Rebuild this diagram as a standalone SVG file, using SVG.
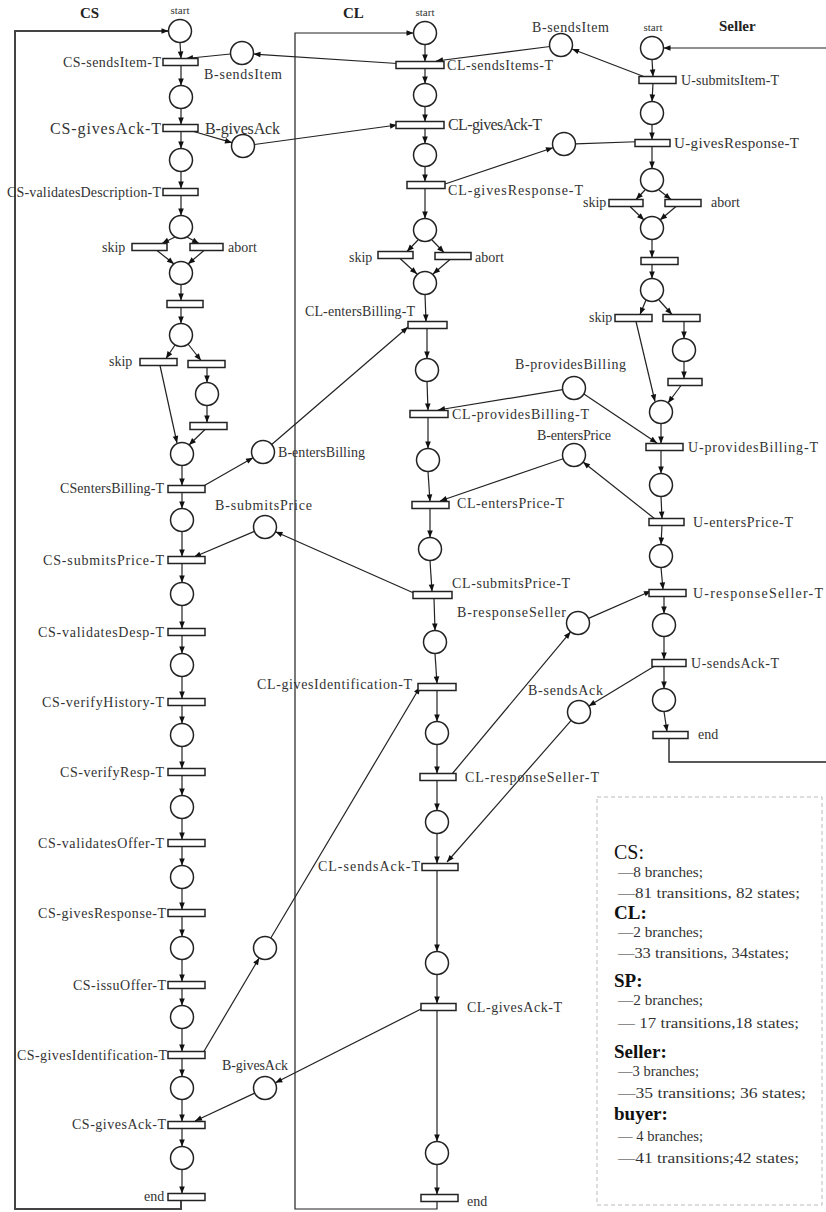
<svg xmlns="http://www.w3.org/2000/svg" width="826" height="1212" viewBox="0 0 826 1212">
<style>
.p{fill:#fff;stroke:#222;stroke-width:1.5}
.t{fill:#fff;stroke:#222;stroke-width:1.5}
.e{fill:none;stroke:#222;stroke-width:1.2;marker-end:url(#a)}
.l{fill:none;stroke:#222;stroke-width:1.4}
.lb{font-family:"Liberation Serif",serif;font-size:14px;fill:#333}
.big{font-size:16px}
.sm{font-family:"Liberation Serif",serif;font-size:11px;fill:#333;text-anchor:middle}
.hd{font-family:"Liberation Serif",serif;font-size:15px;font-weight:bold;fill:#222}
.lg{font-family:"Liberation Serif",serif;font-size:14px;fill:#333}
.lh{font-family:"Liberation Serif",serif;font-size:19px;font-weight:bold;fill:#111}
</style>
<defs>
<marker id="a" viewBox="0 0 10 10" refX="10" refY="5" markerWidth="8" markerHeight="7" markerUnits="userSpaceOnUse" orient="auto"><path d="M0,1 L10,5 L0,9 z" fill="#111"/></marker>
</defs>
<rect width="826" height="1212" fill="#fff"/>

<g id="connectors">
<!-- loops -->
<path class="e" d="M181,1200.5 V1209 H15 V31 H168.5" style="stroke:#444;stroke-width:2"/>
<path class="e" d="M437,1201.5 V1209 H295 V33 H413.5"/>
<path class="e" d="M826,48 H663.5"/>
<path class="l" d="M669,738.5 V762 H826"/>
<!-- CS column -->
<line class="e" x1="180" y1="42.5" x2="181" y2="58.5"/>
<line class="e" x1="181" y1="65.5" x2="181" y2="85.5"/>
<line class="e" x1="181" y1="108.5" x2="181" y2="124.5"/>
<line class="e" x1="181" y1="131.5" x2="181" y2="148.5"/>
<line class="e" x1="181" y1="171.5" x2="181" y2="188.5"/>
<line class="e" x1="181" y1="195.5" x2="181" y2="215.5"/>
<line class="e" x1="175" y1="237" x2="162" y2="243.5"/>
<line class="e" x1="187" y1="237" x2="199" y2="243.5"/>
<line class="e" x1="157" y1="250.5" x2="174" y2="264"/>
<line class="e" x1="204" y1="250.5" x2="188" y2="264"/>
<line class="e" x1="181" y1="284.5" x2="181" y2="300.5"/>
<line class="e" x1="181" y1="307.5" x2="181" y2="323.5"/>
<line class="e" x1="175" y1="345" x2="166" y2="358.5"/>
<line class="e" x1="188" y1="344" x2="201" y2="360.5"/>
<line class="e" x1="160" y1="365.5" x2="177" y2="443"/>
<line class="e" x1="207" y1="367.5" x2="207" y2="382.5"/>
<line class="e" x1="207" y1="405.5" x2="207" y2="422.5"/>
<line class="e" x1="205" y1="429.5" x2="189" y2="445"/>
<line class="e" x1="182" y1="465.5" x2="182" y2="485.5"/>
<line class="e" x1="182" y1="492.5" x2="182" y2="508.5"/>
<line class="e" x1="182" y1="531.5" x2="182" y2="556.5"/>
<line class="e" x1="182" y1="563.5" x2="182" y2="582.5"/>
<line class="e" x1="182" y1="605.5" x2="182" y2="628.5"/>
<line class="e" x1="182" y1="635.5" x2="182" y2="653.5"/>
<line class="e" x1="182" y1="676.5" x2="182" y2="698.5"/>
<line class="e" x1="182" y1="705.5" x2="182" y2="723.5"/>
<line class="e" x1="182" y1="746.5" x2="182" y2="768.5"/>
<line class="e" x1="182" y1="775.5" x2="182" y2="795.5"/>
<line class="e" x1="182" y1="818.5" x2="182" y2="839.5"/>
<line class="e" x1="182" y1="846.5" x2="182" y2="865.5"/>
<line class="e" x1="182" y1="888.5" x2="182" y2="909.5"/>
<line class="e" x1="182" y1="916.5" x2="182" y2="936.5"/>
<line class="e" x1="182" y1="959.5" x2="182" y2="981.5"/>
<line class="e" x1="182" y1="988.5" x2="182" y2="1005.5"/>
<line class="e" x1="182" y1="1028.5" x2="182" y2="1051.5"/>
<line class="e" x1="182" y1="1058.5" x2="182" y2="1076.5"/>
<line class="e" x1="182" y1="1099.5" x2="182" y2="1121.5"/>
<line class="e" x1="182" y1="1128.5" x2="182" y2="1146.5"/>
<line class="e" x1="182" y1="1169.5" x2="182" y2="1193.5"/>
<!-- CL column -->
<line class="e" x1="425" y1="44.5" x2="425" y2="61.5"/>
<line class="e" x1="425" y1="68.5" x2="425" y2="83.5"/>
<line class="e" x1="425" y1="106.5" x2="425" y2="121.5"/>
<line class="e" x1="425" y1="128.5" x2="425" y2="143.5"/>
<line class="e" x1="425" y1="166.5" x2="425" y2="181.5"/>
<line class="e" x1="425" y1="188.5" x2="425" y2="218.5"/>
<line class="e" x1="418" y1="240" x2="407" y2="251.5"/>
<line class="e" x1="432" y1="240" x2="444" y2="252.5"/>
<line class="e" x1="400" y1="258.5" x2="417" y2="274"/>
<line class="e" x1="450" y1="259.5" x2="433" y2="274"/>
<line class="e" x1="425" y1="294.5" x2="426" y2="321.5"/>
<line class="e" x1="427" y1="328.5" x2="427" y2="358.5"/>
<line class="e" x1="427" y1="381.5" x2="428" y2="410.5"/>
<line class="e" x1="428" y1="417.5" x2="428" y2="448.5"/>
<line class="e" x1="428" y1="471.5" x2="430" y2="501.5"/>
<line class="e" x1="430" y1="508.5" x2="430" y2="537.5"/>
<line class="e" x1="430" y1="560.5" x2="432" y2="591.5"/>
<line class="e" x1="434" y1="598.5" x2="435" y2="630.5"/>
<line class="e" x1="435" y1="653.5" x2="437" y2="683.5"/>
<line class="e" x1="437" y1="690.5" x2="437" y2="721.5"/>
<line class="e" x1="437" y1="744.5" x2="437" y2="773.5"/>
<line class="e" x1="437" y1="780.5" x2="437" y2="810.5"/>
<line class="e" x1="437" y1="833.5" x2="437" y2="863.5"/>
<line class="e" x1="437" y1="870.5" x2="437" y2="951.5"/>
<line class="e" x1="437" y1="974.5" x2="437" y2="1003.5"/>
<line class="e" x1="437" y1="1010.5" x2="437" y2="1141.5"/>
<line class="e" x1="437" y1="1164.5" x2="437" y2="1194.5"/>
<!-- Seller column -->
<line class="e" x1="652" y1="59.5" x2="653" y2="76.5"/>
<line class="e" x1="653" y1="83.5" x2="652" y2="101.5"/>
<line class="e" x1="652" y1="124.5" x2="652" y2="139.5"/>
<line class="e" x1="652" y1="146.5" x2="652" y2="168.5"/>
<line class="e" x1="645" y1="190" x2="636" y2="199.5"/>
<line class="e" x1="659" y1="190" x2="671" y2="199.5"/>
<line class="e" x1="630" y1="206.5" x2="644" y2="220"/>
<line class="e" x1="676" y1="206.5" x2="660" y2="220"/>
<line class="e" x1="652" y1="239.5" x2="652" y2="257.5"/>
<line class="e" x1="652" y1="264.5" x2="652" y2="278.5"/>
<line class="e" x1="646" y1="300" x2="640" y2="314.5"/>
<line class="e" x1="659" y1="300" x2="672" y2="314.5"/>
<line class="e" x1="636" y1="321.5" x2="655" y2="401.5"/>
<line class="e" x1="684" y1="321.5" x2="684" y2="338.5"/>
<line class="e" x1="684" y1="361.5" x2="684" y2="378.5"/>
<line class="e" x1="681" y1="385.5" x2="668" y2="403"/>
<line class="e" x1="661" y1="423.5" x2="661" y2="443.5"/>
<line class="e" x1="661" y1="450.5" x2="661" y2="473.5"/>
<line class="e" x1="661" y1="496.5" x2="662" y2="518.5"/>
<line class="e" x1="662" y1="525.5" x2="661" y2="544.5"/>
<line class="e" x1="661" y1="567.5" x2="663" y2="589.5"/>
<line class="e" x1="664" y1="596.5" x2="664" y2="613.5"/>
<line class="e" x1="664" y1="636.5" x2="664" y2="659.5"/>
<line class="e" x1="664" y1="666.5" x2="664" y2="688.5"/>
<line class="e" x1="664" y1="711.5" x2="667" y2="731.5"/>
<!-- message flows -->
<line class="e" x1="645" y1="77" x2="572" y2="49"/>
<line class="e" x1="550" y1="46.5" x2="436" y2="61"/>
<line class="e" x1="405" y1="64" x2="253.5" y2="54"/>
<line class="e" x1="230.5" y1="54" x2="186" y2="58.5"/>
<line class="e" x1="192" y1="131" x2="232" y2="142.7"/>
<line class="e" x1="254.4" y1="144.5" x2="397" y2="125"/>
<line class="e" x1="445" y1="184" x2="553" y2="147.7"/>
<line class="e" x1="575.5" y1="143.8" x2="643" y2="141.5"/>
<line class="e" x1="200" y1="488" x2="253" y2="457.7"/>
<line class="e" x1="271.7" y1="444.5" x2="408" y2="327"/>
<line class="e" x1="416" y1="594" x2="275.5" y2="531.7"/>
<line class="e" x1="254.4" y1="531.4" x2="194" y2="557"/>
<line class="e" x1="562.6" y1="389.6" x2="438" y2="410"/>
<line class="e" x1="583.9" y1="393.9" x2="657" y2="443"/>
<line class="e" x1="655" y1="519" x2="583" y2="462"/>
<line class="e" x1="563.1" y1="458.7" x2="440" y2="501"/>
<line class="e" x1="452" y1="774" x2="570.6" y2="631.8"/>
<line class="e" x1="588.5" y1="618.4" x2="651" y2="591"/>
<line class="e" x1="658" y1="664" x2="588.8" y2="706"/>
<line class="e" x1="571.2" y1="720.4" x2="447" y2="862"/>
<line class="e" x1="203" y1="1053" x2="259.2" y2="957.9"/>
<line class="e" x1="270.8" y1="938" x2="420" y2="687"/>
<line class="e" x1="425" y1="1007" x2="275.3" y2="1082.8"/>
<line class="e" x1="254.7" y1="1093.1" x2="195" y2="1121"/>
</g>

<!-- headers -->
<text class="hd" x="80" y="18">CS</text>
<text class="hd" x="343" y="18">CL</text>
<text class="hd" x="719" y="31">Seller</text>

<!-- CS nodes -->
<g id="cs-start"><circle class="p" cx="180" cy="31" r="11.5"/><text class="sm" x="180" y="14">start</text></g>
<g id="cs-sendsItem"><rect class="t" x="163" y="58.5" width="35" height="7"/><text class="lb" x="63" y="66.5" textLength="98">CS-sendsItem-T</text></g>
<g id="cs-p1"><circle class="p" cx="181" cy="97" r="11.5"/></g>
<g id="cs-givesAck"><rect class="t" x="163" y="124.5" width="35" height="7"/><text class="lb big" x="50" y="133.5" textLength="111">CS-givesAck-T</text></g>
<g id="cs-p2"><circle class="p" cx="181" cy="160" r="11.5"/></g>
<g id="cs-validatesDescription"><rect class="t" x="163" y="188.5" width="35" height="7"/><text class="lb" x="7" y="196.5" textLength="154">CS-validatesDescription-T</text></g>
<g id="cs-p3"><circle class="p" cx="181" cy="227" r="11.5"/></g>
<g id="cs-skip1"><rect class="t" x="132" y="243.5" width="35" height="7"/><text class="lb" x="102" y="252">skip</text></g>
<g id="cs-abort1"><rect class="t" x="190" y="243.5" width="33" height="7"/><text class="lb" x="228" y="252">abort</text></g>
<g id="cs-p4"><circle class="p" cx="181" cy="273" r="11.5"/></g>
<g id="cs-t1"><rect class="t" x="167" y="300.5" width="36" height="7"/></g>
<g id="cs-p5"><circle class="p" cx="181" cy="335" r="11.5"/></g>
<g id="cs-skip2"><rect class="t" x="140" y="358.5" width="37" height="7"/><text class="lb" x="109" y="366">skip</text></g>
<g id="cs-t2"><rect class="t" x="188" y="360.5" width="37" height="7"/></g>
<g id="cs-p6"><circle class="p" cx="207" cy="394" r="11.5"/></g>
<g id="cs-t3"><rect class="t" x="190" y="422.5" width="37" height="7"/></g>
<g id="cs-p7"><circle class="p" cx="182" cy="454" r="11.5"/></g>
<g id="cs-entersBilling"><rect class="t" x="168" y="485.5" width="37" height="7"/><text class="lb" x="60" y="493" textLength="104">CSentersBilling-T</text></g>
<g id="cs-p8"><circle class="p" cx="182" cy="520" r="11.5"/></g>
<g id="cs-submitsPrice"><rect class="t" x="168" y="556.5" width="37" height="7"/><text class="lb" x="43" y="565" textLength="121">CS-submitsPrice-T</text></g>
<g id="cs-p9"><circle class="p" cx="182" cy="594" r="11.5"/></g>
<g id="cs-validatesDesp"><rect class="t" x="168" y="628.5" width="37" height="7"/><text class="lb" x="38" y="637" textLength="126">CS-validatesDesp-T</text></g>
<g id="cs-p10"><circle class="p" cx="182" cy="665" r="11.5"/></g>
<g id="cs-verifyHistory"><rect class="t" x="168" y="698.5" width="37" height="7"/><text class="lb" x="42" y="707" textLength="122">CS-verifyHistory-T</text></g>
<g id="cs-p11"><circle class="p" cx="182" cy="735" r="11.5"/></g>
<g id="cs-verifyResp"><rect class="t" x="168" y="768.5" width="37" height="7"/><text class="lb" x="60" y="777" textLength="104">CS-verifyResp-T</text></g>
<g id="cs-p12"><circle class="p" cx="182" cy="807" r="11.5"/></g>
<g id="cs-validatesOffer"><rect class="t" x="168" y="839.5" width="37" height="7"/><text class="lb" x="38" y="848" textLength="126">CS-validatesOffer-T</text></g>
<g id="cs-p13"><circle class="p" cx="182" cy="877" r="11.5"/></g>
<g id="cs-givesResponse"><rect class="t" x="168" y="909.5" width="37" height="7"/><text class="lb" x="38" y="918" textLength="128">CS-givesResponse-T</text></g>
<g id="cs-p14"><circle class="p" cx="182" cy="948" r="11.5"/></g>
<g id="cs-issuOffer"><rect class="t" x="168" y="981.5" width="37" height="7"/><text class="lb" x="73" y="990" textLength="93">CS-issuOffer-T</text></g>
<g id="cs-p15"><circle class="p" cx="182" cy="1017" r="11.5"/></g>
<g id="cs-givesIdentification"><rect class="t" x="168" y="1051.5" width="37" height="7"/><text class="lb" x="17" y="1060" textLength="150">CS-givesIdentification-T</text></g>
<g id="cs-p16"><circle class="p" cx="182" cy="1088" r="11.5"/></g>
<g id="cs-givesAck2"><rect class="t" x="168" y="1121.5" width="37" height="7"/><text class="lb" x="72" y="1129" textLength="94">CS-givesAck-T</text></g>
<g id="cs-p17"><circle class="p" cx="182" cy="1158" r="11.5"/></g>
<g id="cs-end"><rect class="t" x="168" y="1193.5" width="37" height="7"/><text class="lb" x="144" y="1201">end</text></g>

<!-- message places -->
<g id="b-sendsItem-1"><circle class="p" cx="242" cy="53" r="11.5"/><text class="lb" x="204" y="79" textLength="78">B-sendsItem</text></g>
<g id="b-givesAck-1"><circle class="p" cx="243" cy="146" r="11.5"/><text class="lb big" x="205" y="134" textLength="75">B-givesAck</text></g>
<g id="b-sendsItem-2"><circle class="p" cx="561" cy="45" r="11.5"/><text class="lb" x="532" y="32" textLength="77">B-sendsItem</text></g>
<g id="p-givesResponse"><circle class="p" cx="564" cy="144" r="11.5"/></g>
<g id="b-entersBilling"><circle class="p" cx="263" cy="452" r="11.5"/><text class="lb" x="278" y="457" textLength="87">B-entersBilling</text></g>
<g id="b-submitsPrice"><circle class="p" cx="265" cy="527" r="11.5"/><text class="lb" x="215" y="510" textLength="97">B-submitsPrice</text></g>
<g id="b-providesBilling"><circle class="p" cx="574" cy="388" r="11.5"/><text class="lb" x="515" y="369" textLength="111">B-providesBilling</text></g>
<g id="b-entersPrice"><circle class="p" cx="574" cy="455" r="11.5"/><text class="lb" x="537" y="440" textLength="74">B-entersPrice</text></g>
<g id="b-responseSeller"><circle class="p" cx="578" cy="623" r="11.5"/><text class="lb" x="457" y="617" textLength="109">B-responseSeller</text></g>
<g id="b-sendsAck"><circle class="p" cx="579" cy="712" r="11.5"/><text class="lb" x="528" y="695" textLength="75">B-sendsAck</text></g>
<g id="p-givesIdentification"><circle class="p" cx="265" cy="948" r="11.5"/></g>
<g id="b-givesAck-2"><circle class="p" cx="265" cy="1088" r="11.5"/><text class="lb" x="222" y="1070" textLength="66">B-givesAck</text></g>

<!-- CL nodes -->
<g id="cl-start"><circle class="p" cx="425" cy="33" r="11.5"/><text class="sm" x="425" y="16">start</text></g>
<g id="cl-sendsItems"><rect class="t" x="396" y="61.5" width="48" height="7"/><text class="lb" x="447" y="69.5" textLength="106">CL-sendsItems-T</text></g>
<g id="cl-p1"><circle class="p" cx="425" cy="95" r="11.5"/></g>
<g id="cl-givesAck"><rect class="t" x="396" y="121.5" width="48" height="7"/><text class="lb big" x="448" y="130" textLength="94">CL-givesAck-T</text></g>
<g id="cl-p2"><circle class="p" cx="425" cy="155" r="11.5"/></g>
<g id="cl-givesResponse"><rect class="t" x="407" y="181.5" width="38" height="7"/><text class="lb" x="448" y="195" textLength="135">CL-givesResponse-T</text></g>
<g id="cl-p3"><circle class="p" cx="425" cy="230" r="11.5"/></g>
<g id="cl-skip"><rect class="t" x="378" y="251.5" width="35" height="7"/><text class="lb" x="349" y="262">skip</text></g>
<g id="cl-abort"><rect class="t" x="435" y="252.5" width="36" height="7"/><text class="lb" x="475" y="262">abort</text></g>
<g id="cl-p4"><circle class="p" cx="425" cy="283" r="11.5"/></g>
<g id="cl-entersBilling"><rect class="t" x="408" y="321.5" width="39" height="7"/><text class="lb" x="305" y="316" textLength="110">CL-entersBilling-T</text></g>
<g id="cl-p5"><circle class="p" cx="427" cy="370" r="11.5"/></g>
<g id="cl-providesBilling"><rect class="t" x="410" y="410.5" width="38" height="7"/><text class="lb" x="452" y="419" textLength="137">CL-providesBilling-T</text></g>
<g id="cl-p6"><circle class="p" cx="428" cy="460" r="11.5"/></g>
<g id="cl-entersPrice"><rect class="t" x="412" y="501.5" width="37" height="7"/><text class="lb" x="457" y="508" textLength="107">CL-entersPrice-T</text></g>
<g id="cl-p7"><circle class="p" cx="430" cy="549" r="11.5"/></g>
<g id="cl-submitsPrice"><rect class="t" x="413" y="591.5" width="39" height="7"/><text class="lb" x="452" y="588" textLength="118">CL-submitsPrice-T</text></g>
<g id="cl-p8"><circle class="p" cx="435" cy="642" r="11.5"/></g>
<g id="cl-givesIdentification"><rect class="t" x="418" y="683.5" width="38" height="7"/><text class="lb" x="257" y="689" textLength="155">CL-givesIdentification-T</text></g>
<g id="cl-p9"><circle class="p" cx="437" cy="733" r="11.5"/></g>
<g id="cl-responseSeller"><rect class="t" x="420" y="773.5" width="36" height="7"/><text class="lb" x="465" y="782" textLength="134">CL-responseSeller-T</text></g>
<g id="cl-p10"><circle class="p" cx="437" cy="822" r="11.5"/></g>
<g id="cl-sendsAck"><rect class="t" x="422" y="863.5" width="36" height="7"/><text class="lb" x="318" y="871" textLength="102">CL-sendsAck-T</text></g>
<g id="cl-p11"><circle class="p" cx="437" cy="963" r="11.5"/></g>
<g id="cl-givesAck2"><rect class="t" x="421" y="1003.5" width="35" height="7"/><text class="lb" x="467" y="1012" textLength="95">CL-givesAck-T</text></g>
<g id="cl-p12"><circle class="p" cx="437" cy="1153" r="11.5"/></g>
<g id="cl-end"><rect class="t" x="421" y="1194.5" width="37" height="7"/><text class="lb" x="467" y="1206">end</text></g>

<!-- Seller nodes -->
<g id="u-start"><circle class="p" cx="652" cy="48" r="11.5"/><text class="sm" x="653" y="31">start</text></g>
<g id="u-submitsItem"><rect class="t" x="639" y="76.5" width="37" height="7"/><text class="lb" x="681" y="84.5" textLength="98">U-submitsItem-T</text></g>
<g id="u-p1"><circle class="p" cx="652" cy="113" r="11.5"/></g>
<g id="u-givesResponse"><rect class="t" x="635" y="139.5" width="35" height="7"/><text class="lb" x="674" y="148" textLength="125" style="font-size:15px">U-givesResponse-T</text></g>
<g id="u-p2"><circle class="p" cx="652" cy="180" r="11.5"/></g>
<g id="u-skip1"><rect class="t" x="609" y="199.5" width="34" height="7"/><text class="lb" x="583" y="207">skip</text></g>
<g id="u-abort"><rect class="t" x="665" y="199.5" width="36" height="7"/><text class="lb" x="711" y="207">abort</text></g>
<g id="u-p3"><circle class="p" cx="652" cy="228" r="11.5"/></g>
<g id="u-t1"><rect class="t" x="641" y="257.5" width="37" height="7"/></g>
<g id="u-p4"><circle class="p" cx="652" cy="290" r="11.5"/></g>
<g id="u-skip2"><rect class="t" x="615" y="314.5" width="37" height="7"/><text class="lb" x="589" y="322">skip</text></g>
<g id="u-t2"><rect class="t" x="663" y="314.5" width="37" height="7"/></g>
<g id="u-p5"><circle class="p" cx="684" cy="350" r="11.5"/></g>
<g id="u-t3"><rect class="t" x="668" y="378.5" width="34" height="7"/></g>
<g id="u-p6"><circle class="p" cx="661" cy="412" r="11.5"/></g>
<g id="u-providesBilling"><rect class="t" x="646" y="443.5" width="37" height="7"/><text class="lb" x="688" y="452" textLength="130">U-providesBilling-T</text></g>
<g id="u-p7"><circle class="p" cx="661" cy="485" r="11.5"/></g>
<g id="u-entersPrice"><rect class="t" x="649" y="518.5" width="35" height="7"/><text class="lb" x="693" y="527" textLength="100">U-entersPrice-T</text></g>
<g id="u-p8"><circle class="p" cx="661" cy="556" r="11.5"/></g>
<g id="u-responseSeller"><rect class="t" x="649" y="589.5" width="37" height="7"/><text class="lb" x="693" y="598" textLength="130">U-responseSeller-T</text></g>
<g id="u-p9"><circle class="p" cx="664" cy="625" r="11.5"/></g>
<g id="u-sendsAck"><rect class="t" x="652" y="659.5" width="34" height="7"/><text class="lb" x="691" y="668" textLength="88">U-sendsAck-T</text></g>
<g id="u-p10"><circle class="p" cx="664" cy="700" r="11.5"/></g>
<g id="u-end"><rect class="t" x="653" y="731.5" width="35" height="7"/><text class="lb" x="698" y="739">end</text></g>

<!-- legend -->
<g id="legend">
<rect x="597" y="797" width="225" height="408" fill="none" stroke="#bbb" stroke-width="1" stroke-dasharray="4 3"/>
<text class="lh" x="614" y="859" style="font-weight:normal;font-size:20px">CS:</text>
<text class="lg" x="618" y="877" textLength="85" lengthAdjust="spacingAndGlyphs">—8 branches;</text>
<text class="lg" x="618" y="898" textLength="182" lengthAdjust="spacingAndGlyphs">—81 transitions, 82 states;</text>
<text class="lh" x="614" y="919">CL:</text>
<text class="lg" x="618" y="937" textLength="85" lengthAdjust="spacingAndGlyphs">—2 branches;</text>
<text class="lg" x="618" y="958" textLength="171" lengthAdjust="spacingAndGlyphs">—33 transitions, 34states;</text>
<text class="lh" x="614" y="987">SP:</text>
<text class="lg" x="618" y="1005" textLength="85" lengthAdjust="spacingAndGlyphs">—2 branches;</text>
<text class="lg" x="618" y="1028" textLength="181" lengthAdjust="spacingAndGlyphs">— 17 transitions,18 states;</text>
<text class="lh" x="614" y="1058">Seller:</text>
<text class="lg" x="618" y="1076" textLength="81" lengthAdjust="spacingAndGlyphs">—3 branches;</text>
<text class="lg" x="618" y="1098" textLength="188" lengthAdjust="spacingAndGlyphs">—35 transitions; 36 states;</text>
<text class="lh" x="614" y="1120">buyer:</text>
<text class="lg" x="618" y="1141" textLength="85" lengthAdjust="spacingAndGlyphs">— 4 branches;</text>
<text class="lg" x="618" y="1163" textLength="181" lengthAdjust="spacingAndGlyphs">—41 transitions;42 states;</text>
</g>
</svg>
